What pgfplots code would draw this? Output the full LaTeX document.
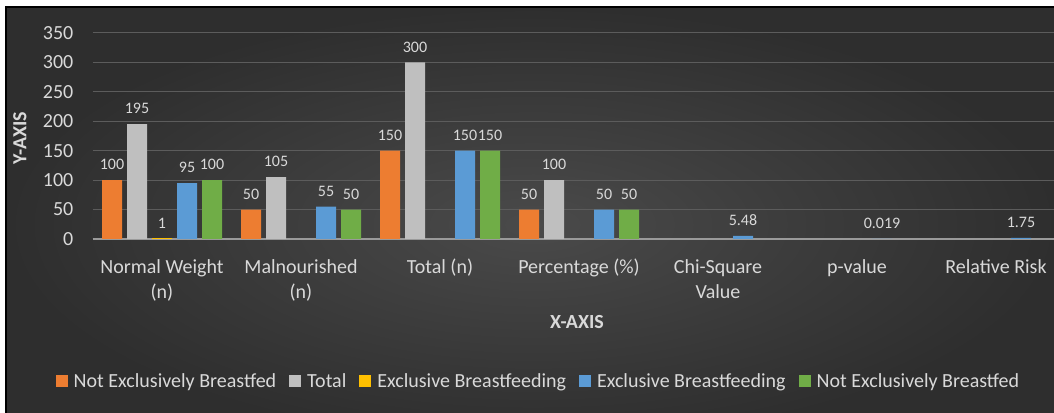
\documentclass[border=0pt]{standalone}
\usepackage{fontspec}
\setmainfont{Carlito}
\usepackage{pgfplots}
\pgfplotsset{compat=1.18}

\definecolor{bgmid}{HTML}{4A4A4A}
\definecolor{bgout}{HTML}{2E2E2E}
\definecolor{gridc}{HTML}{5C5C5C}
\definecolor{axisc}{HTML}{9A9A9A}
\definecolor{txt}{HTML}{D9D9D9}
\definecolor{cOrange}{HTML}{ED7D31}
\definecolor{cGray}{HTML}{BFBFBF}
\definecolor{cYellow}{HTML}{FFC000}
\definecolor{cBlue}{HTML}{5B9BD5}
\definecolor{cGreen}{HTML}{70AD47}

\pgfplotsset{
  sqlegend/.style={legend image code/.code={\fill[##1] (0pt,-6pt) rectangle (12pt,6pt);}},
}

\begin{document}
\begin{tikzpicture}[x=1pt,y=1pt]
\path[use as bounding box] (0,0) rectangle (1054,412);
\fill[white] (0,0) rectangle (1054,412);
\shade[inner color=bgmid, outer color=bgout] (6,-30) rectangle (1060,405);
\draw[black, line width=1.5pt] (6,-5) -- (6,405) -- (1070,405);

\begin{axis}[
  at={(92.5pt,173pt)}, anchor=south west,
  scale only axis, width=973pt, height=206pt,
  xmin=-0.5, xmax=6.5, ymin=0, ymax=350,
  ybar=5pt, bar width=20pt,
  xtick={0,...,6},
  xticklabels={{Normal Weight\\(n)},{Malnourished\\(n)},{Total (n)},{Percentage (\%)},{Chi-Square\\Value},{p-value},{Relative Risk}},
  ytick={0,50,...,350},
  axis x line*=bottom, axis y line*=left,
  x axis line style={draw=axisc, line width=2pt, -},
  y axis line style={draw=none},
  major tick length=0pt, tick style={draw=none},
  ymajorgrids, grid style={gridc, line width=1pt},
  /pgf/number format/assume math mode=true,
  /pgf/number format/fixed, /pgf/number format/precision=3,
  tick label style={text=txt, font=\fontsize{20}{25}\selectfont},
  xticklabel style={align=center, anchor=north, inner sep=0pt, yshift=-20pt},
  yticklabel style={anchor=east, inner sep=0pt, xshift=-19pt},
  nodes near coords,
  every node near coord/.append style={text=txt, font=\fontsize{16}{19}\selectfont, inner sep=0pt, anchor=south, yshift=10pt},
  legend columns=-1,
  legend style={at={(0.4573,-0.689)}, anchor=center, draw=none, fill=none,
    text=txt, font=\fontsize{20}{24}\selectfont,
    nodes={inner sep=0pt},
    /tikz/every odd column/.append style={column sep=6pt},
    /tikz/every even column/.append style={column sep=13pt}},
]
% Not exclusively breastfed
\addplot[fill=cOrange, draw=none, sqlegend] coordinates {(0,100) (1,50) (2,150) (3,50)};
% Total
\addplot[fill=cGray, draw=none, sqlegend] coordinates {(0,195) (1,105) (2,300) (3,100)};
% Exclusive breastfeeding (first series)
\addplot[fill=cYellow, draw=none, sqlegend] coordinates {(0,1)};
% Exclusive breastfeeding (second series)
\addplot[fill=cBlue, draw=none, sqlegend] coordinates {(0,95) (1,55) (2,150) (3,50) (4,5.48) (5,0.019) (6,1.75)};
% Not exclusively breastfed (second series)
\addplot[fill=cGreen, draw=none, sqlegend] coordinates {(0,100) (1,50) (2,150) (3,50)};
\legend{Not Exclusively Breastfed, Total, Exclusive Breastfeeding, Exclusive Breastfeeding, Not Exclusively Breastfed}
\end{axis}

\node[rotate=90, text=txt, font=\bfseries\fontsize{20}{24}\selectfont] at (20,274) {Y-AXIS};
\node[text=txt, font=\bfseries\fontsize{20}{24}\selectfont] at (577,90) {X-AXIS};
\end{tikzpicture}
\end{document}
